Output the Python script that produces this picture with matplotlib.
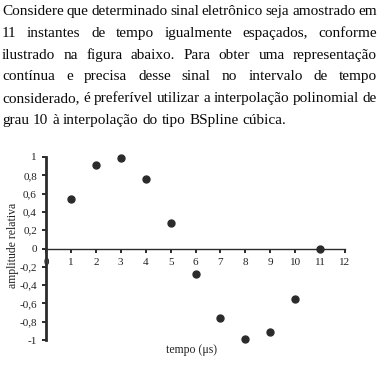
import matplotlib
matplotlib.use('Agg')
from matplotlib import pyplot as plt

# dados
tempo = [1, 2, 3, 4, 5, 6, 7, 8, 9, 10, 11]
amplitude = [0.54, 0.91, 0.99, 0.76, 0.28, -0.28, -0.76, -0.99, -0.91, -0.55, 0.0]
xticks = list(range(0, 13))
yticks = [1, 0.8, 0.6, 0.4, 0.2, 0, -0.2, -0.4, -0.6, -0.8, -1]
ylabels = ['1', '0,8', '0,6', '0,4', '0,2', '0', '-0,2', '-0,4', '-0,6', '-0,8', '-1']

linhas = [
    "Considere que determinado sinal eletrônico seja amostrado em",
    "11 instantes de tempo igualmente espaçados, conforme",
    "ilustrado na figura abaixo. Para obter uma representação",
    "contínua e precisa desse sinal no intervalo de tempo",
    "considerado, é preferível utilizar a interpolação polinomial de",
    "grau 10 à interpolação do tipo BSpline cúbica.",
]

W, H = 381, 366
plt.rcParams['font.family'] = ['Liberation Serif', 'DejaVu Serif']
fig = plt.figure(figsize=(W / 100, H / 100), dpi=100)
fig.patch.set_facecolor('white')

# texto justificado
renderer = fig.canvas.get_renderer()
esq, dir_ = 2, 377
tam = 11
for i, linha in enumerate(linhas):
    yc = 11.7 + 21.7 * i
    palavras = linha.split(' ')
    objs = [fig.text(0, 1 - yc / H, p, fontsize=tam, va='center', ha='left', color='#0a0a0a')
            for p in palavras]
    larg = [o.get_window_extent(renderer).width for o in objs]
    if i < len(linhas) - 1:
        gap = (dir_ - esq - sum(larg)) / (len(palavras) - 1)
    else:
        gap = 4.0  # ultima linha alinhada a esquerda
    x = esq
    for o, w in zip(objs, larg):
        o.set_x(x / W)
        x += w + gap

# grafico
x0, x1, y0, y1 = 46, 345, 157, 340
ax = fig.add_axes([x0 / W, 1 - y1 / H, (x1 - x0) / W, (y1 - y0) / H])
ax.set_facecolor('none')
ax.plot(tempo, amplitude, 'o', color='#2b2b2b', ms=5, clip_on=False, zorder=5)
ax.set_xlim(0, 12)
ax.set_ylim(-1, 1)
ax.spines['top'].set_visible(False)
ax.spines['right'].set_visible(False)
ax.spines['bottom'].set_position(('data', 0))
ax.spines['bottom'].set_linewidth(1.0)
ax.spines['left'].set_linewidth(2.0)
ax.spines['bottom'].set_color('#2b2b2b')
ax.spines['left'].set_color('#2b2b2b')
ax.set_xticks(xticks)
ax.set_xticklabels([str(t) for t in xticks])
ax.set_yticks(yticks)
ax.set_yticklabels(ylabels)
ax.tick_params(axis='y', direction='out', length=3, width=1.4, pad=3.5,
               labelsize=8, colors='#2b2b2b', labelcolor='#222222')
ax.tick_params(axis='x', direction='out', length=3, width=1.4, pad=3.5,
               labelsize=8, colors='#2b2b2b', labelcolor='#222222')

fig.text(13 / W, 1 - 245 / H, 'amplitude relativa', rotation=90, fontsize=8.5,
         ha='center', va='center', color='#222222')
fig.text(192 / W, 1 - 350 / H, 'tempo (μs)', fontsize=8.5,
         ha='center', va='center', color='#222222')

fig.savefig('out.png', dpi=100)
